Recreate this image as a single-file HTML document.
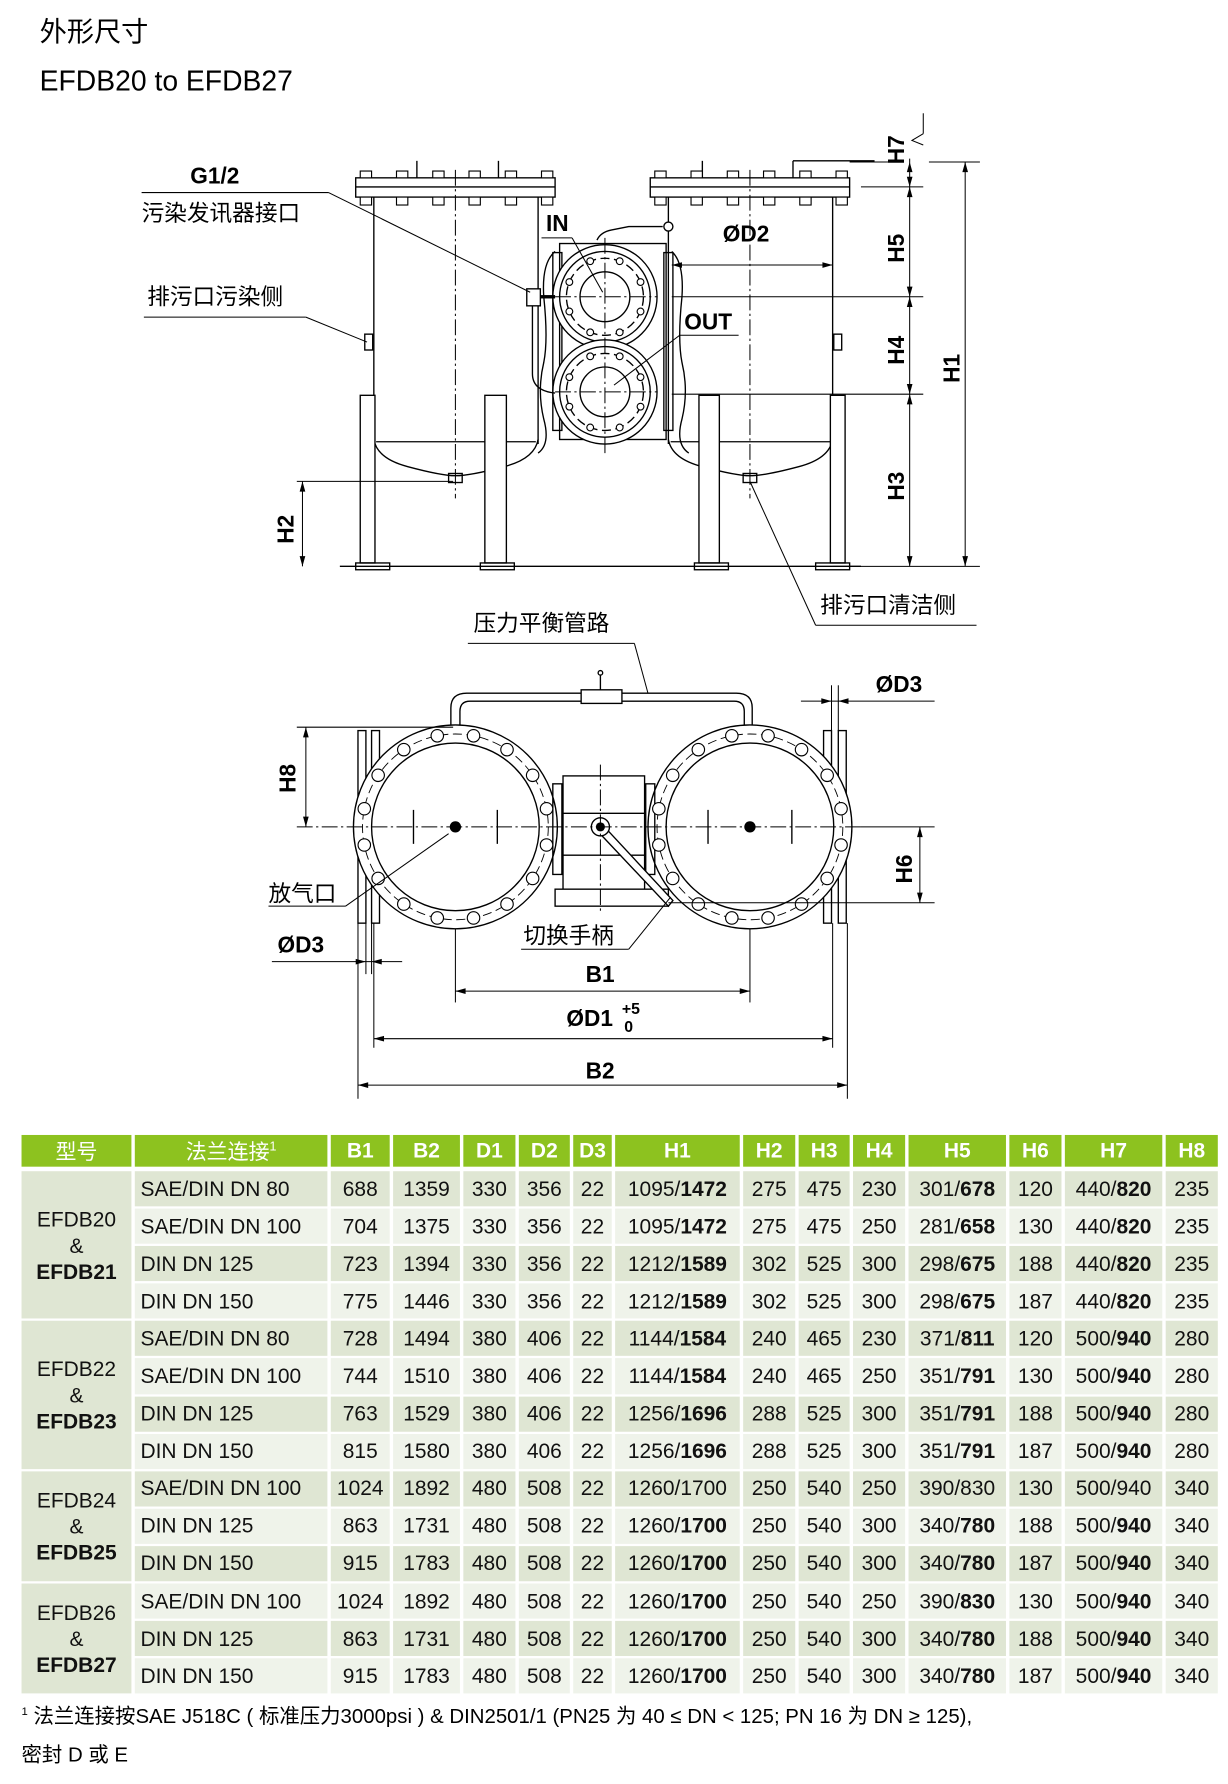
<!DOCTYPE html>
<html><head><meta charset="utf-8">
<style>
html,body{margin:0;padding:0;background:#fff;}
body{width:1228px;height:1784px;overflow:hidden;position:relative;}
#pg{position:absolute;left:0;top:0;width:1084px;height:1575px;transform:scale(1.13284,1.13270);transform-origin:0 0;font-family:"Liberation Sans","Noto Sans CJK SC",sans-serif;}
svg{position:absolute;left:0;top:0;}
svg text{font-family:"Liberation Sans","Noto Sans CJK SC",sans-serif;fill:#000;}
table{position:absolute;left:16px;top:1000px;border-collapse:separate;border-spacing:3px 2.45px;table-layout:fixed;font-size:18.5px;color:#111;}
td,th{padding:0;text-align:center;white-space:nowrap;overflow:hidden;}
th{background:#8dc21f;color:#fff;height:28px;font-weight:bold;font-size:18.5px;}
th.cn{font-weight:normal;}
td{height:31.1px;}
tr.d td{background:#dfe6d3;}
tr.l td{background:#eff3ea;}
td.g{background:#dfe6d3 !important;line-height:23px;}
td.f{text-align:left;padding-left:5px;}
b{font-weight:bold;}
.fn{position:absolute;left:19px;font-size:18px;white-space:nowrap;}
</style></head><body>
<div id="pg">
<svg width="1084" height="1575" viewBox="0 0 1084 1575" id="dw">
<text x="35" y="36" font-size="24">外形尺寸</text>
<text x="35" y="80" font-size="25">EFDB20 to EFDB27</text>

<g id="top" stroke="#000" fill="none" stroke-width="1.2">
<rect x="314" y="157" width="176" height="17" fill="#fff"/>
<line x1="314" y1="165" x2="490" y2="165"/>
<line x1="330" y1="174" x2="330" y2="392"/>
<line x1="475" y1="174" x2="475" y2="392"/>
<path d="M330 388 Q333 405 360 412 Q390 420 402 420 Q415 420 445 412 Q472 405 475 388"/>
<line x1="332" y1="390" x2="473" y2="390"/>
<rect x="396" y="418" width="12" height="8"/>
<rect x="574" y="157" width="176" height="17" fill="#fff"/>
<line x1="574" y1="165" x2="750" y2="165"/>
<line x1="590" y1="174" x2="590" y2="392"/>
<line x1="735" y1="174" x2="735" y2="392"/>
<path d="M590 388 Q593 405 620 412 Q650 420 662 420 Q675 420 705 412 Q732 405 735 388"/>
<line x1="592" y1="390" x2="733" y2="390"/>
<rect x="656" y="418" width="12" height="8"/>
<line x1="368" y1="157" x2="368" y2="142"/><line x1="440" y1="157" x2="440" y2="142"/>
<line x1="620" y1="157" x2="620" y2="142"/><line x1="700" y1="157" x2="700" y2="142"/>
<line x1="700" y1="142" x2="772" y2="142"/>
<rect x="318" y="349" width="13" height="148" fill="#fff"/>
<rect x="428" y="349" width="19" height="148" fill="#fff"/>
<rect x="617" y="349" width="18" height="148" fill="#fff"/>
<rect x="733" y="349" width="13" height="148" fill="#fff"/>
<rect x="314" y="497" width="30" height="6"/><rect x="424" y="497" width="30" height="6"/>
<rect x="613" y="497" width="30" height="6"/><rect x="720" y="497" width="30" height="6"/>
<line x1="300" y1="500" x2="760" y2="500"/>
<rect x="322" y="295" width="7" height="14"/><rect x="736" y="295" width="7" height="14"/>
<path d="M490 222 Q478 232 480 262 Q484 300 480 320 Q474 345 480 370 Q486 392 475 400"/>
<path d="M593 222 Q604 232 602 262 Q598 300 602 320 Q608 345 602 370 Q596 392 608 400"/>
<rect x="494" y="215" width="94" height="173" fill="#fff"/>
<rect x="488" y="223" width="8" height="157"/><rect x="586" y="223" width="8" height="157"/>
<circle cx="534" cy="262" r="46" fill="#fff"/><circle cx="534" cy="262" r="40"/><circle cx="534" cy="262" r="22"/>
<circle cx="534" cy="346" r="46" fill="#fff"/><circle cx="534" cy="346" r="40"/><circle cx="534" cy="346" r="22"/>
<circle cx="534" cy="262" r="34" stroke-dasharray="8 4"/>
<circle cx="534" cy="346" r="34" stroke-dasharray="8 4"/>
<path d="M527 212 Q530 205 540 203 L555 200 L585 200" />
<circle cx="590" cy="200" r="4" fill="#fff"/>
<rect x="465" y="255" width="12" height="15" fill="#fff"/>
<path d="M470 270 L470 330 Q470 345 490 347"/>
<line x1="477" y1="262" x2="490" y2="262" stroke-width="3"/>
</g>
<g stroke="#000" stroke-width="0.9" fill="none" stroke-dasharray="14 3 2 3">
<line x1="402" y1="150" x2="402" y2="440"/>
<line x1="662" y1="150" x2="662" y2="440"/>
<line x1="534" y1="210" x2="534" y2="400"/>
<line x1="490" y1="262" x2="580" y2="262"/>
<line x1="490" y1="346" x2="580" y2="346"/>
</g>
<g stroke="#000" stroke-width="0.9" fill="none">
<line x1="815" y1="100" x2="815" y2="118"/><path d="M815 118 L805 124 L815 128"/>
<line x1="750" y1="143" x2="796" y2="143"/>
<line x1="820" y1="143" x2="865" y2="143"/>
<line x1="760" y1="165" x2="815" y2="165"/>
<line x1="593" y1="262" x2="815" y2="262"/>
<line x1="593" y1="348" x2="815" y2="348"/>
<line x1="735" y1="500" x2="865" y2="500"/>
<line x1="803" y1="140" x2="803" y2="500"/>
<line x1="852" y1="143" x2="852" y2="500"/>
<line x1="262" y1="425" x2="400" y2="425"/>
<line x1="267" y1="425" x2="267" y2="500"/>
<line x1="593" y1="234" x2="735" y2="234"/>
<line x1="125" y1="170" x2="290" y2="170"/><line x1="290" y1="170" x2="468" y2="258"/>
<line x1="127" y1="280" x2="270" y2="280"/><line x1="270" y1="280" x2="324" y2="302"/>
<line x1="478" y1="210" x2="505" y2="210"/><line x1="505" y1="210" x2="532" y2="258"/>
<line x1="600" y1="296" x2="652" y2="296"/><line x1="600" y1="296" x2="542" y2="340"/>
<line x1="720" y1="552" x2="862" y2="552"/><line x1="720" y1="552" x2="662" y2="425"/>
</g>
<g fill="#000">
<path d="M803 143 l-2.5 9 h5z M803 165 l-2.5 -9 h5z M803 165 l-2.5 9 h5z M803 262 l-2.5 -9 h5z M803 262 l-2.5 9 h5z M803 348 l-2.5 -9 h5z M803 348 l-2.5 9 h5z M803 500 l-2.5 -9 h5z"/>
<path d="M852 143 l-2.5 9 h5z M852 500 l-2.5 -9 h5z M267 425 l-2.5 9 h5z M267 500 l-2.5 -9 h5z"/>
<path d="M593 234 l9 -2.5 v5z M735 234 l-9 -2.5 v5z"/>
</g>
<g font-weight="bold" font-size="20">
<text x="168" y="162">G1/2</text>
<text x="482" y="204">IN</text>
<text x="638" y="213">ØD2</text>
<text x="604" y="291">OUT</text>
<text transform="translate(798,145) rotate(-90)">H7</text>
<text transform="translate(798,232) rotate(-90)">H5</text>
<text transform="translate(798,322) rotate(-90)">H4</text>
<text transform="translate(798,442) rotate(-90)">H3</text>
<text transform="translate(847,338) rotate(-90)">H1</text>
<text transform="translate(259,480) rotate(-90)">H2</text>
</g>
<g font-size="20">
<text x="125" y="195">污染发讯器接口</text>
<text x="130" y="269">排污口污染侧</text>
<text x="724" y="541">排污口清洁侧</text>
<text x="418" y="557">压力平衡管路</text>
<text x="237" y="796">放气口</text>
<text x="462" y="833">切换手柄</text>
</g>

<g stroke="#000" fill="none" stroke-width="1.2">
<path d="M398 642 L398 625 Q398 612 412 612 L650 612 Q664 612 664 625 L664 642"/>
<path d="M406 642 L406 628 Q406 619 415 619 L648 619 Q657 619 657 628 L657 642"/>
<rect x="513" y="609" width="36" height="12" fill="#fff"/>
<line x1="530" y1="609" x2="530" y2="596"/><circle cx="530" cy="594" r="2"/>
<rect x="316" y="645" width="7" height="170"/><rect x="328" y="645" width="7" height="170"/>
<rect x="727" y="645" width="7" height="170"/><rect x="740" y="645" width="7" height="170"/>
<circle cx="402" cy="730" r="90" fill="#fff"/><circle cx="402" cy="730" r="74"/>
<circle cx="662" cy="730" r="90" fill="#fff"/><circle cx="662" cy="730" r="74"/>
<circle cx="402" cy="730" r="82" stroke-dasharray="8 4" stroke-width="0.8"/>
<circle cx="662" cy="730" r="82" stroke-dasharray="8 4" stroke-width="0.8"/>
<rect x="497" y="685" width="72" height="100" fill="#fff"/>
<line x1="497" y1="718" x2="569" y2="718"/><line x1="497" y1="755" x2="569" y2="755"/>
<rect x="488" y="692" width="8" height="80"/><rect x="570" y="692" width="8" height="80"/>
<rect x="490" y="785" width="100" height="15" fill="#fff"/>
<path d="M528 724 L594 795 L590 800 L524 730z" fill="#fff"/>
<circle cx="530" cy="730" r="8" fill="#fff"/>
<line x1="365" y1="715" x2="365" y2="745"/><line x1="439" y1="715" x2="439" y2="745"/>
<line x1="625" y1="715" x2="625" y2="745"/><line x1="699" y1="715" x2="699" y2="745"/>
</g>
<g id="bolts" stroke="#000" fill="#fff" stroke-width="1"></g>
<g fill="#000"><circle cx="402" cy="730" r="5"/><circle cx="662" cy="730" r="5"/><circle cx="530" cy="730" r="4"/></g>
<g stroke="#000" stroke-width="0.9" fill="none" stroke-dasharray="14 3 2 3">
<line x1="262" y1="730" x2="760" y2="730"/>
<line x1="530" y1="675" x2="530" y2="805"/>
</g>
<g stroke="#000" stroke-width="0.9" fill="none">
<line x1="262" y1="642" x2="400" y2="642"/>
<line x1="270" y1="642" x2="270" y2="730"/>
<line x1="590" y1="797" x2="825" y2="797"/>
<line x1="812" y1="730" x2="812" y2="797"/>
<line x1="760" y1="730" x2="825" y2="730"/>
<line x1="707" y1="619" x2="825" y2="619"/>
<line x1="734" y1="605" x2="734" y2="645"/><line x1="740" y1="605" x2="740" y2="645"/>
<line x1="240" y1="849" x2="355" y2="849"/>
<line x1="323" y1="815" x2="323" y2="860"/><line x1="328" y1="815" x2="328" y2="860"/>
<line x1="402" y1="820" x2="402" y2="885"/><line x1="662" y1="820" x2="662" y2="885"/>
<line x1="330" y1="815" x2="330" y2="925"/><line x1="735" y1="815" x2="735" y2="925"/>
<line x1="316" y1="815" x2="316" y2="970"/><line x1="748" y1="815" x2="748" y2="970"/>
<line x1="402" y1="875" x2="662" y2="875"/>
<line x1="330" y1="917" x2="735" y2="917"/>
<line x1="316" y1="958" x2="748" y2="958"/>
<line x1="237" y1="800" x2="305" y2="800"/><line x1="305" y1="800" x2="396" y2="736"/>
<line x1="460" y1="838" x2="555" y2="838"/><line x1="555" y1="838" x2="592" y2="792"/>
<line x1="413" y1="568" x2="560" y2="568"/><line x1="560" y1="568" x2="572" y2="612"/>
</g>
<g fill="#000">
<path d="M270 642 l-2.5 9 h5z M270 730 l-2.5 -9 h5z M812 730 l-2.5 9 h5z M812 797 l-2.5 -9 h5z"/>
<path d="M402 875 l9 -2.5 v5z M662 875 l-9 -2.5 v5z M330 917 l9 -2.5 v5z M735 917 l-9 -2.5 v5z M316 958 l9 -2.5 v5z M748 958 l-9 -2.5 v5z"/>
<path d="M734 619 l-9 -2.5 v5z M740 619 l9 -2.5 v5z M323 849 l-9 -2.5 v5z M328 849 l9 -2.5 v5z"/>
</g>
<g font-weight="bold" font-size="20">
<text transform="translate(261,700) rotate(-90)">H8</text>
<text transform="translate(805,780) rotate(-90)">H6</text>
<text x="773" y="611">ØD3</text>
<text x="245" y="841">ØD3</text>
<text x="517" y="867">B1</text>
<text x="500" y="906">ØD1</text>
<text x="549" y="895" font-size="14">+5</text>
<text x="551" y="911" font-size="14">0</text>
<text x="517" y="952">B2</text>
</g>
</svg>

<table>
<colgroup>
<col style="width:97px"><col style="width:170px"><col style="width:52px"><col style="width:59px"><col style="width:46px"><col style="width:45px"><col style="width:34px"><col style="width:110px"><col style="width:46px"><col style="width:45px"><col style="width:46px"><col style="width:86px"><col style="width:46px"><col style="width:86px"><col style="width:46px">
</colgroup>
<tr><th class="cn">型号</th><th class="cn">法兰连接<sup style="font-size:11px">1</sup></th><th>B1</th><th>B2</th><th>D1</th><th>D2</th><th>D3</th><th>H1</th><th>H2</th><th>H3</th><th>H4</th><th>H5</th><th>H6</th><th>H7</th><th>H8</th></tr>
<tr style="height:0"><td colspan="15" style="height:0"></td></tr>
<tr class="d"><td class="g" rowspan="4">EFDB20<br>&amp;<br><b>EFDB21</b></td><td class="f">SAE/DIN DN 80</td><td>688</td><td>1359</td><td>330</td><td>356</td><td>22</td><td>1095/<b>1472</b></td><td>275</td><td>475</td><td>230</td><td>301/<b>678</b></td><td>120</td><td>440/<b>820</b></td><td>235</td></tr>
<tr class="l"><td class="f">SAE/DIN DN 100</td><td>704</td><td>1375</td><td>330</td><td>356</td><td>22</td><td>1095/<b>1472</b></td><td>275</td><td>475</td><td>250</td><td>281/<b>658</b></td><td>130</td><td>440/<b>820</b></td><td>235</td></tr>
<tr class="d"><td class="f">DIN DN 125</td><td>723</td><td>1394</td><td>330</td><td>356</td><td>22</td><td>1212/<b>1589</b></td><td>302</td><td>525</td><td>300</td><td>298/<b>675</b></td><td>188</td><td>440/<b>820</b></td><td>235</td></tr>
<tr class="l"><td class="f">DIN DN 150</td><td>775</td><td>1446</td><td>330</td><td>356</td><td>22</td><td>1212/<b>1589</b></td><td>302</td><td>525</td><td>300</td><td>298/<b>675</b></td><td>187</td><td>440/<b>820</b></td><td>235</td></tr>
<tr class="d"><td class="g" rowspan="4">EFDB22<br>&amp;<br><b>EFDB23</b></td><td class="f">SAE/DIN DN 80</td><td>728</td><td>1494</td><td>380</td><td>406</td><td>22</td><td>1144/<b>1584</b></td><td>240</td><td>465</td><td>230</td><td>371/<b>811</b></td><td>120</td><td>500/<b>940</b></td><td>280</td></tr>
<tr class="l"><td class="f">SAE/DIN DN 100</td><td>744</td><td>1510</td><td>380</td><td>406</td><td>22</td><td>1144/<b>1584</b></td><td>240</td><td>465</td><td>250</td><td>351/<b>791</b></td><td>130</td><td>500/<b>940</b></td><td>280</td></tr>
<tr class="d"><td class="f">DIN DN 125</td><td>763</td><td>1529</td><td>380</td><td>406</td><td>22</td><td>1256/<b>1696</b></td><td>288</td><td>525</td><td>300</td><td>351/<b>791</b></td><td>188</td><td>500/<b>940</b></td><td>280</td></tr>
<tr class="l"><td class="f">DIN DN 150</td><td>815</td><td>1580</td><td>380</td><td>406</td><td>22</td><td>1256/<b>1696</b></td><td>288</td><td>525</td><td>300</td><td>351/<b>791</b></td><td>187</td><td>500/<b>940</b></td><td>280</td></tr>
<tr class="d"><td class="g" rowspan="3">EFDB24<br>&amp;<br><b>EFDB25</b></td><td class="f">SAE/DIN DN 100</td><td>1024</td><td>1892</td><td>480</td><td>508</td><td>22</td><td>1260/1700</td><td>250</td><td>540</td><td>250</td><td>390/830</td><td>130</td><td>500/940</td><td>340</td></tr>
<tr class="l"><td class="f">DIN DN 125</td><td>863</td><td>1731</td><td>480</td><td>508</td><td>22</td><td>1260/<b>1700</b></td><td>250</td><td>540</td><td>300</td><td>340/<b>780</b></td><td>188</td><td>500/<b>940</b></td><td>340</td></tr>
<tr class="d"><td class="f">DIN DN 150</td><td>915</td><td>1783</td><td>480</td><td>508</td><td>22</td><td>1260/<b>1700</b></td><td>250</td><td>540</td><td>300</td><td>340/<b>780</b></td><td>187</td><td>500/<b>940</b></td><td>340</td></tr>
<tr class="l"><td class="g" rowspan="3">EFDB26<br>&amp;<br><b>EFDB27</b></td><td class="f">SAE/DIN DN 100</td><td>1024</td><td>1892</td><td>480</td><td>508</td><td>22</td><td>1260/<b>1700</b></td><td>250</td><td>540</td><td>250</td><td>390/<b>830</b></td><td>130</td><td>500/<b>940</b></td><td>340</td></tr>
<tr class="d"><td class="f">DIN DN 125</td><td>863</td><td>1731</td><td>480</td><td>508</td><td>22</td><td>1260/<b>1700</b></td><td>250</td><td>540</td><td>300</td><td>340/<b>780</b></td><td>188</td><td>500/<b>940</b></td><td>340</td></tr>
<tr class="l"><td class="f">DIN DN 150</td><td>915</td><td>1783</td><td>480</td><td>508</td><td>22</td><td>1260/<b>1700</b></td><td>250</td><td>540</td><td>300</td><td>340/<b>780</b></td><td>187</td><td>500/<b>940</b></td><td>340</td></tr>
</table>
<div class="fn" style="top:1501px"><sup style="font-size:10px">1</sup> 法兰连接按SAE J518C ( 标准压力3000psi )  &amp; DIN2501/1 (PN25 为 40 ≤ DN &lt; 125; PN 16 为 DN ≥ 125),</div>
<div class="fn" style="top:1535px">密封 D 或 E</div>
</div>
<script>
(function(){
var ns="http://www.w3.org/2000/svg",g=document.getElementById('bolts');
function c(x,y,r){var e=document.createElementNS(ns,'circle');e.setAttribute('cx',x);e.setAttribute('cy',y);e.setAttribute('r',r);g.appendChild(e);}
function r(x,y,w,h){var e=document.createElementNS(ns,'rect');e.setAttribute('x',x);e.setAttribute('y',y);e.setAttribute('width',w);e.setAttribute('height',h);g.appendChild(e);}
[402,662].forEach(function(cx){for(var i=0;i<16;i++){var a=(i+0.5)*Math.PI/8;c(cx+82*Math.cos(a),730+82*Math.sin(a),5.5);}});
[262,346].forEach(function(cy){for(var i=0;i<8;i++){var a=(i+0.5)*Math.PI/4;c(534+34*Math.cos(a),cy+34*Math.sin(a),3);}});
[[318,488],[578,748]].forEach(function(p){for(var x=p[0];x<=p[1]-10;x+=(p[1]-p[0]-10)/5){r(x,151,10,6);r(x,174,10,7);}});
})();
</script>
</body></html>
